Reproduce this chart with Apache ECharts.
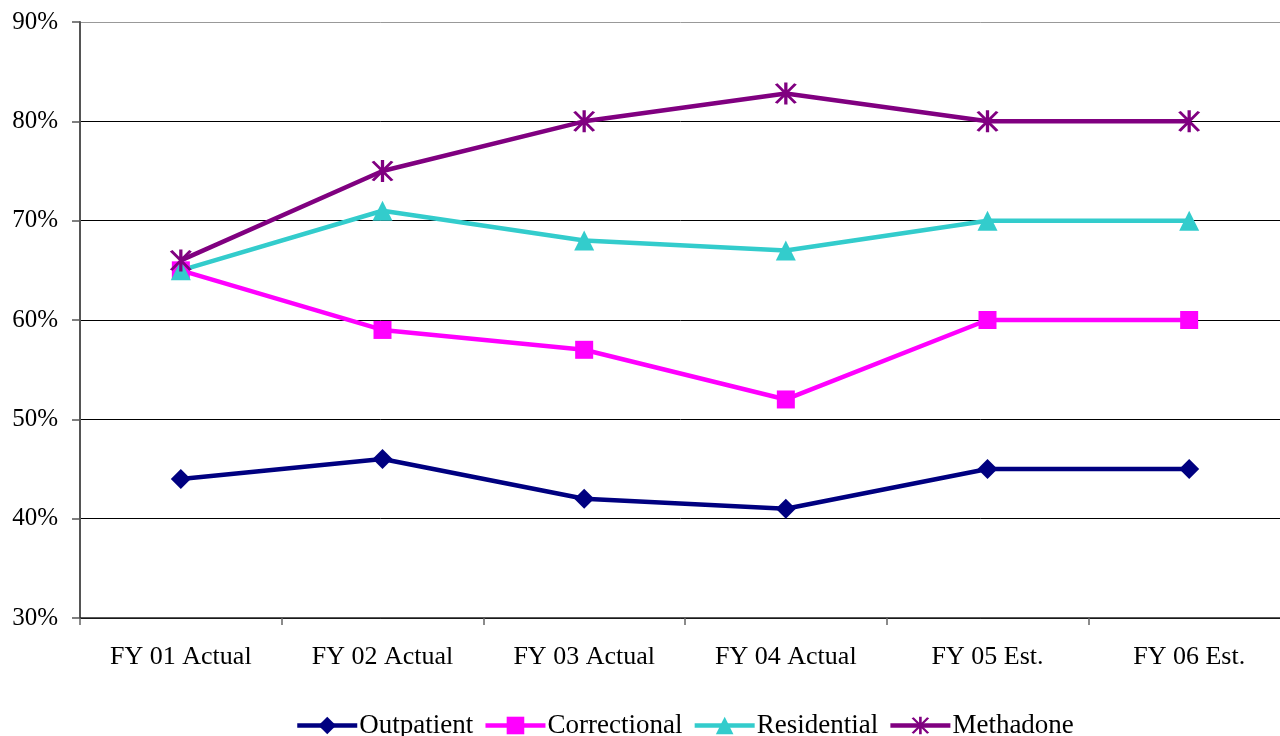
<!DOCTYPE html>
<html><head><meta charset="utf-8">
<script src="https://cdn.jsdelivr.net/npm/echarts@6/dist/echarts.min.js"></script>
<style>html,body{margin:0;padding:0;background:#fff}#c{width:1280px;height:736px}</style>
</head><body><div id="c"></div>
<script>
const categories = ['FY 01 Actual','FY 02 Actual','FY 03 Actual','FY 04 Actual','FY 05 Est.','FY 06 Est.'];
const outpatient = [44, 46, 42, 41, 45, 45];
const correctional = [65, 59, 57, 52, 60, 60];
const residential = [65, 71, 68, 67, 70, 70];
const methadone = [66, 75, 80, 82.8, 80, 80];

const star = 'path://M9 0 L11 0 L11 20 L9 20 Z M3.3 1.8 L4.9 0.6 L16.7 18.2 L15.1 19.4 Z M15.1 0.6 L16.7 1.8 L4.9 19.4 L3.3 18.2 Z';
const font = 'Liberation Serif';
const chart = echarts.init(document.getElementById('c'));
function mk(name, data, color, symbol, size) {
  return {name, type:'line', data, symbol, symbolSize:size, showSymbol:true,
    lineStyle:{color, width:4.5}, itemStyle:{color}, z: 2, animation:false};
}
chart.setOption({
  animation:false,
  textStyle:{fontFamily:font},
  grid:{left:80, top:22, width:1210, bottom:118, containLabel:false, outerBoundsMode:'none'},
  xAxis:{type:'category', data:categories, boundaryGap:true,
    axisLine:{lineStyle:{color:'#222', width:1.5}},
    axisTick:{show:true, length:7, lineStyle:{color:'#666', width:1.5}},
    axisLabel:{color:'#000', fontSize:26, fontFamily:font, margin:26}},
  yAxis:{type:'value', min:30, max:90, interval:10,
    axisLine:{show:true, lineStyle:{color:'#555', width:2}},
    axisTick:{show:true, length:8, lineStyle:{color:'#555', width:1.5}},
    axisLabel:{color:'#000', fontSize:25, fontFamily:font, margin:22, formatter:'{value}%'},
    splitLine:{show:true, lineStyle:{color:['#000','#000','#000','#000','#000','#000','#999'], width:1}}},
  legend:{bottom:-8, left:290, itemWidth:60, itemHeight:22, itemGap:10,
    lineStyle:{width:4.5},
    textStyle:{color:'#000', fontSize:27, fontFamily:font, padding:[0,0,0,-3]},
    data:['Outpatient','Correctional','Residential','Methadone']},
  series:[
    mk('Outpatient', outpatient, '#000080', 'diamond', 20),
    mk('Correctional', correctional, '#ff00ff', 'rect', 18),
    mk('Residential', residential, '#33cccc', 'triangle', 20),
    mk('Methadone', methadone, '#800080', star, 22)
  ]
});
</script></body></html>
